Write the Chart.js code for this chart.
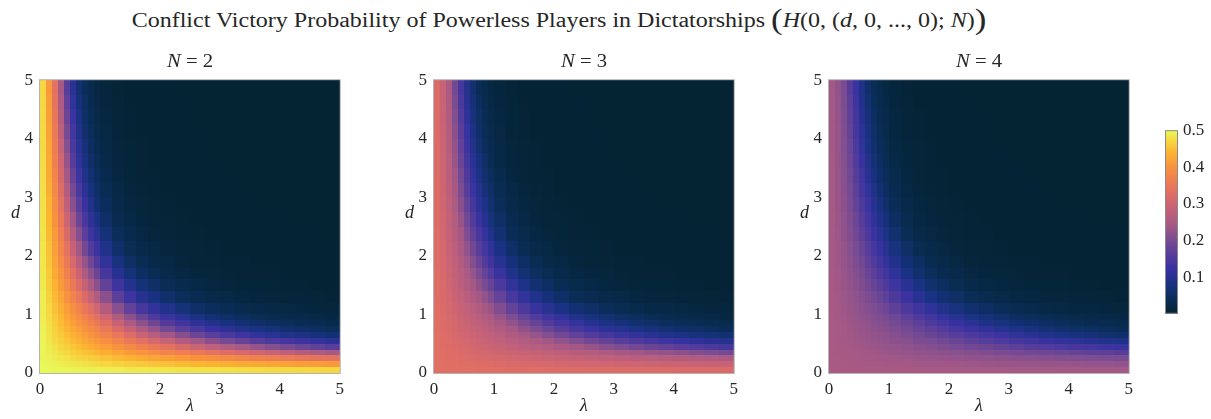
<!DOCTYPE html>
<html>
<head>
<meta charset="utf-8">
<script src="https://cdn.jsdelivr.net/npm/chart.js@4.4.1/dist/chart.umd.min.js"></script>
<style>
  html, body { margin: 0; padding: 0; background: #fff; }
  #wrap { position: relative; width: 1211px; height: 419px; overflow: hidden;
          font-family: 'Liberation Serif', 'DejaVu Serif', serif; color: #262626; }
  canvas { position: absolute; }
  .lbl { position: absolute; white-space: nowrap; line-height: 1; }
  #title { left: 559px; top: 3px; font-size: 20px; transform: translateX(-50%) scaleX(1.2); }
  #title .big { font-size: 29px; position: relative; top: 2px; }
  .ptitle { top: 52px; font-size: 18px; transform: translateX(-50%) scaleX(1.15); }
  .xlab { top: 396px; font-size: 18px; font-style: italic; transform: translateX(-50%); }
  .ylab { top: 203px; font-size: 18px; font-style: italic; }
</style>
</head>
<body>
<div id="wrap">
  <div id="title" class="lbl">Conflict Victory Probability of Powerless Players in Dictatorships <span class="big">(</span><i>H</i>(0, (<i>d</i>, 0, ..., 0); <i>N</i>)<span class="big">)</span></div>
  <canvas id="p0" width="350" height="340"></canvas>
  <canvas id="p1" width="350" height="340"></canvas>
  <canvas id="p2" width="350" height="340"></canvas>
  <canvas id="cbar" width="60" height="214"></canvas>
</div>
<script>
// cell edges on both axes (lambda across, d up)
const lambdaEdges = [0, 0.1, 0.2, 0.3, 0.4, 0.5, 0.6, 0.7, 0.8, 0.9, 1.0, 1.2, 1.4, 1.6, 1.8, 2.0,
  2.25, 2.5, 2.75, 3.0, 3.25, 3.5, 3.75, 4.0, 4.25, 4.5, 4.75, 5.0];
const dEdges = [0, 0.1, 0.2, 0.3, 0.4, 0.5, 0.6, 0.7, 0.8, 0.9, 1.0, 1.2, 1.4, 1.6, 1.8, 2.0,
  2.25, 2.5, 2.75, 3.0, 3.25, 3.5, 3.75, 4.0, 4.25, 4.5, 4.75, 5.0];

const xTicks = [0, 1, 2, 3, 4, 5];
const yTicks = [0, 1, 2, 3, 4, 5];
const colorbarTicks = [0.1, 0.2, 0.3, 0.4, 0.5];
const panelNames = ['2', '3', '4'];
const panelLefts = [40, 434, 829];

// probability, one row per d cell (bottom row first), one column per lambda cell
const probN2 = [
  [.499,.498,.497,.497,.496,.495,.494,.493,.492,.491,.490,.489,.487,.486,.484,.483,.482,.480,.479,.478,.476,.475,.474,.473,.472,.471,.470],
  [.498,.495,.493,.490,.487,.484,.482,.479,.477,.474,.471,.466,.462,.458,.454,.450,.445,.441,.437,.432,.429,.425,.421,.418,.415,.412,.408],
  [.497,.493,.488,.483,.479,.474,.469,.466,.462,.458,.452,.444,.437,.429,.422,.415,.407,.399,.392,.384,.376,.369,.362,.355,.349,.342,.336],
  [.497,.490,.483,.477,.470,.464,.458,.452,.447,.441,.432,.421,.410,.400,.390,.378,.365,.352,.340,.328,.315,.303,.290,.278,.266,.255,.245],
  [.496,.487,.479,.470,.463,.455,.447,.439,.431,.424,.413,.398,.384,.369,.354,.337,.318,.299,.279,.260,.244,.228,.214,.200,.188,.176,.165],
  [.495,.484,.474,.464,.455,.445,.435,.426,.416,.407,.393,.374,.354,.335,.314,.290,.263,.240,.218,.198,.181,.164,.150,.137,.125,.115,.107],
  [.494,.482,.469,.458,.447,.435,.424,.413,.401,.390,.372,.348,.322,.296,.269,.241,.213,.188,.166,.146,.129,.115,.104,.094,.085,.076,.069],
  [.493,.479,.466,.452,.439,.426,.413,.399,.386,.372,.350,.320,.288,.256,.227,.197,.168,.144,.123,.107,.094,.082,.071,.063,.057,.050,.044],
  [.492,.477,.462,.447,.431,.416,.401,.386,.369,.353,.327,.290,.252,.219,.189,.159,.132,.110,.093,.079,.067,.058,.050,.043,.038,.034,.030],
  [.491,.474,.458,.441,.424,.407,.390,.372,.353,.334,.303,.259,.220,.185,.155,.127,.104,.085,.069,.058,.048,.040,.035,.030,.027,.024,.021],
  [.490,.471,.452,.432,.413,.393,.372,.350,.327,.303,.263,.217,.176,.142,.114,.092,.072,.058,.045,.037,.031,.026,.022,.019,.017,.015,.013],
  [.489,.466,.444,.421,.398,.374,.348,.320,.290,.259,.217,.168,.129,.100,.079,.060,.044,.035,.027,.022,.018,.015,.013,.011,.009,.008,.007],
  [.487,.462,.437,.410,.384,.354,.322,.288,.252,.220,.176,.129,.096,.071,.054,.039,.029,.022,.018,.014,.011,.009,.008,.007,.006,.005,.005],
  [.486,.458,.429,.400,.369,.335,.296,.256,.219,.185,.142,.100,.071,.051,.037,.027,.020,.015,.012,.009,.007,.007,.006,.005,.005,.004,.004],
  [.484,.454,.422,.390,.354,.314,.269,.227,.189,.155,.114,.079,.054,.037,.027,.020,.014,.011,.008,.007,.006,.005,.004,.004,.004,.003,.003],
  [.483,.450,.415,.378,.337,.290,.241,.197,.159,.127,.092,.060,.039,.027,.020,.014,.010,.008,.006,.005,.005,.004,.004,.003,.003,.003,.003],
  [.482,.445,.407,.365,.318,.263,.213,.168,.132,.104,.072,.044,.029,.020,.014,.010,.007,.006,.005,.004,.004,.003,.003,.003,.003,.003,.002],
  [.480,.441,.399,.352,.299,.240,.188,.144,.110,.085,.058,.035,.022,.015,.011,.008,.006,.005,.004,.003,.003,.003,.003,.003,.002,.002,.002],
  [.479,.437,.392,.340,.279,.218,.166,.123,.093,.069,.045,.027,.018,.012,.008,.006,.005,.004,.003,.003,.003,.003,.002,.002,.002,.002,.002],
  [.478,.432,.384,.328,.260,.198,.146,.107,.079,.058,.037,.022,.014,.009,.007,.005,.004,.003,.003,.003,.003,.002,.002,.002,.002,.002,.002],
  [.476,.429,.376,.315,.244,.181,.129,.094,.067,.048,.031,.018,.011,.007,.006,.005,.004,.003,.003,.003,.002,.002,.002,.002,.002,.002,.002],
  [.475,.425,.369,.303,.228,.164,.115,.082,.058,.040,.026,.015,.009,.007,.005,.004,.003,.003,.003,.002,.002,.002,.002,.002,.002,.002,.002],
  [.474,.421,.362,.290,.214,.150,.104,.071,.050,.035,.022,.013,.008,.006,.004,.004,.003,.003,.002,.002,.002,.002,.002,.002,.002,.002,.002],
  [.473,.418,.355,.278,.200,.137,.094,.063,.043,.030,.019,.011,.007,.005,.004,.003,.003,.003,.002,.002,.002,.002,.002,.002,.002,.002,.002],
  [.472,.415,.349,.266,.188,.125,.085,.057,.038,.027,.017,.009,.006,.005,.004,.003,.003,.002,.002,.002,.002,.002,.002,.002,.002,.002,.002],
  [.471,.412,.342,.255,.176,.115,.076,.050,.034,.024,.015,.008,.005,.004,.003,.003,.003,.002,.002,.002,.002,.002,.002,.002,.002,.002,.002],
  [.470,.408,.336,.245,.165,.107,.069,.044,.030,.021,.013,.007,.005,.004,.003,.003,.002,.002,.002,.002,.002,.002,.002,.002,.002,.002,.002]
];

const probN3 = [
  [.333,.332,.332,.332,.332,.331,.331,.330,.330,.329,.329,.328,.328,.327,.326,.326,.325,.324,.324,.323,.322,.322,.322,.321,.321,.320,.320],
  [.332,.331,.330,.329,.328,.326,.325,.324,.323,.322,.320,.318,.316,.314,.312,.310,.308,.306,.304,.302,.300,.298,.296,.295,.293,.292,.290],
  [.332,.330,.328,.326,.324,.322,.319,.318,.316,.314,.311,.307,.304,.300,.297,.293,.289,.285,.282,.277,.273,.270,.266,.262,.259,.255,.251],
  [.332,.329,.326,.323,.320,.317,.314,.311,.309,.306,.302,.296,.291,.286,.281,.274,.267,.260,.254,.247,.240,.233,.225,.218,.210,.203,.197],
  [.332,.328,.324,.320,.317,.313,.309,.305,.301,.298,.292,.285,.277,.270,.261,.252,.241,.230,.218,.206,.196,.186,.176,.167,.158,.150,.142],
  [.331,.326,.322,.317,.313,.308,.303,.299,.294,.289,.282,.272,.261,.251,.239,.225,.208,.194,.179,.165,.153,.141,.130,.120,.111,.103,.097],
  [.331,.325,.319,.314,.309,.303,.298,.292,.286,.281,.271,.258,.244,.228,.212,.194,.176,.158,.142,.127,.114,.103,.094,.086,.078,.071,.065],
  [.330,.324,.318,.311,.305,.299,.292,.285,.279,.271,.259,.242,.224,.204,.185,.165,.144,.126,.110,.097,.086,.076,.066,.059,.054,.048,.042],
  [.330,.323,.316,.309,.301,.294,.286,.279,.270,.261,.246,.225,.201,.180,.159,.137,.117,.099,.085,.073,.063,.055,.048,.041,.037,.033,.029],
  [.329,.322,.314,.306,.298,.289,.281,.271,.261,.250,.233,.206,.180,.156,.134,.113,.094,.078,.065,.055,.046,.038,.034,.029,.026,.023,.021],
  [.329,.320,.311,.302,.292,.282,.271,.259,.246,.233,.208,.178,.150,.124,.102,.084,.067,.055,.043,.036,.030,.025,.022,.019,.017,.015,.013],
  [.328,.318,.307,.296,.285,.272,.258,.242,.225,.206,.178,.144,.114,.091,.073,.057,.042,.034,.026,.022,.018,.015,.013,.011,.009,.008,.007],
  [.328,.316,.304,.291,.277,.261,.244,.224,.201,.180,.150,.114,.088,.066,.051,.038,.028,.022,.018,.014,.011,.009,.008,.007,.006,.005,.005],
  [.327,.314,.300,.286,.270,.251,.228,.204,.180,.156,.124,.091,.066,.049,.036,.026,.020,.015,.012,.009,.007,.007,.006,.005,.005,.004,.004],
  [.326,.312,.297,.281,.261,.239,.212,.185,.159,.134,.102,.073,.051,.036,.026,.020,.014,.011,.008,.007,.006,.005,.004,.004,.004,.003,.003],
  [.326,.310,.293,.274,.252,.225,.194,.165,.137,.113,.084,.057,.038,.026,.020,.014,.010,.008,.006,.005,.005,.004,.004,.003,.003,.003,.003],
  [.325,.308,.289,.267,.241,.208,.176,.144,.117,.094,.067,.042,.028,.020,.014,.010,.007,.006,.005,.004,.004,.003,.003,.003,.003,.003,.002],
  [.324,.306,.285,.260,.230,.194,.158,.126,.099,.078,.055,.034,.022,.015,.011,.008,.006,.005,.004,.003,.003,.003,.003,.003,.002,.002,.002],
  [.324,.304,.282,.254,.218,.179,.142,.110,.085,.065,.043,.026,.018,.012,.008,.006,.005,.004,.003,.003,.003,.003,.002,.002,.002,.002,.002],
  [.323,.302,.277,.247,.206,.165,.127,.097,.073,.055,.036,.022,.014,.009,.007,.005,.004,.003,.003,.003,.003,.002,.002,.002,.002,.002,.002],
  [.322,.300,.273,.240,.196,.153,.114,.086,.063,.046,.030,.018,.011,.007,.006,.005,.004,.003,.003,.003,.002,.002,.002,.002,.002,.002,.002],
  [.322,.298,.270,.233,.186,.141,.103,.076,.055,.038,.025,.015,.009,.007,.005,.004,.003,.003,.003,.002,.002,.002,.002,.002,.002,.002,.002],
  [.322,.296,.266,.225,.176,.130,.094,.066,.048,.034,.022,.013,.008,.006,.004,.004,.003,.003,.002,.002,.002,.002,.002,.002,.002,.002,.002],
  [.321,.295,.262,.218,.167,.120,.086,.059,.041,.029,.019,.011,.007,.005,.004,.003,.003,.003,.002,.002,.002,.002,.002,.002,.002,.002,.002],
  [.321,.293,.259,.210,.158,.111,.078,.054,.037,.026,.017,.009,.006,.005,.004,.003,.003,.002,.002,.002,.002,.002,.002,.002,.002,.002,.002],
  [.320,.292,.255,.203,.150,.103,.071,.048,.033,.023,.015,.008,.005,.004,.003,.003,.003,.002,.002,.002,.002,.002,.002,.002,.002,.002,.002],
  [.320,.290,.251,.197,.142,.097,.065,.042,.029,.021,.013,.007,.005,.004,.003,.003,.002,.002,.002,.002,.002,.002,.002,.002,.002,.002,.002]
];

const probN4 = [
  [.250,.249,.249,.249,.249,.249,.248,.248,.248,.248,.247,.247,.247,.246,.246,.246,.245,.245,.245,.244,.244,.244,.243,.243,.243,.243,.242],
  [.249,.249,.248,.247,.247,.246,.245,.245,.244,.243,.243,.241,.240,.239,.238,.237,.235,.234,.233,.232,.231,.230,.229,.228,.227,.226,.225],
  [.249,.248,.247,.246,.245,.243,.242,.241,.240,.239,.237,.235,.233,.231,.229,.227,.224,.222,.220,.217,.215,.212,.210,.208,.206,.203,.201],
  [.249,.247,.246,.244,.242,.241,.239,.237,.236,.234,.232,.229,.225,.222,.219,.215,.211,.207,.202,.198,.193,.189,.184,.179,.174,.169,.164],
  [.249,.247,.245,.242,.240,.238,.236,.234,.231,.229,.226,.222,.217,.212,.207,.201,.194,.187,.179,.171,.164,.157,.150,.143,.137,.130,.124],
  [.249,.246,.243,.241,.238,.235,.233,.230,.227,.224,.220,.214,.207,.201,.193,.184,.172,.162,.152,.142,.133,.123,.115,.108,.100,.093,.088],
  [.248,.245,.242,.239,.236,.233,.229,.226,.223,.219,.213,.205,.196,.186,.175,.163,.149,.137,.125,.113,.103,.093,.086,.079,.073,.066,.061],
  [.248,.245,.241,.237,.234,.230,.226,.222,.218,.213,.206,.195,.183,.169,.156,.141,.126,.112,.099,.088,.079,.070,.062,.056,.051,.045,.040],
  [.248,.244,.240,.236,.231,.227,.223,.218,.212,.207,.198,.184,.168,.152,.137,.121,.104,.090,.078,.068,.059,.052,.045,.040,.035,.032,.028],
  [.248,.243,.239,.234,.229,.224,.219,.213,.207,.200,.189,.171,.153,.135,.118,.101,.086,.073,.061,.052,.044,.037,.033,.028,.026,.022,.020],
  [.247,.243,.237,.232,.226,.220,.213,.206,.198,.189,.172,.151,.130,.111,.093,.078,.063,.052,.041,.034,.029,.025,.021,.018,.016,.015,.013],
  [.247,.241,.235,.229,.222,.214,.205,.195,.184,.171,.151,.126,.103,.083,.068,.054,.040,.033,.026,.021,.017,.015,.013,.011,.009,.008,.007],
  [.247,.240,.233,.225,.217,.207,.196,.183,.168,.153,.130,.103,.081,.062,.049,.036,.027,.021,.017,.014,.011,.009,.008,.007,.006,.005,.005],
  [.246,.239,.231,.222,.212,.201,.186,.169,.152,.135,.111,.083,.062,.046,.034,.026,.019,.015,.012,.009,.007,.007,.006,.005,.005,.004,.004],
  [.246,.238,.229,.219,.207,.193,.175,.156,.137,.118,.093,.068,.049,.034,.026,.019,.014,.011,.008,.007,.006,.005,.004,.004,.004,.003,.003],
  [.246,.237,.227,.215,.201,.184,.163,.141,.121,.101,.078,.054,.036,.026,.019,.014,.010,.008,.006,.005,.005,.004,.004,.003,.003,.003,.003],
  [.245,.235,.224,.211,.194,.172,.149,.126,.104,.086,.063,.040,.027,.019,.014,.010,.007,.006,.005,.004,.004,.003,.003,.003,.003,.003,.002],
  [.245,.234,.222,.207,.187,.162,.137,.112,.090,.073,.052,.033,.021,.015,.011,.008,.006,.005,.004,.003,.003,.003,.003,.003,.002,.002,.002],
  [.245,.233,.220,.202,.179,.152,.125,.099,.078,.061,.041,.026,.017,.012,.008,.006,.005,.004,.003,.003,.003,.003,.002,.002,.002,.002,.002],
  [.244,.232,.217,.198,.171,.142,.113,.088,.068,.052,.034,.021,.014,.009,.007,.005,.004,.003,.003,.003,.003,.002,.002,.002,.002,.002,.002],
  [.244,.231,.215,.193,.164,.133,.103,.079,.059,.044,.029,.017,.011,.007,.006,.005,.004,.003,.003,.003,.002,.002,.002,.002,.002,.002,.002],
  [.244,.230,.212,.189,.157,.123,.093,.070,.052,.037,.025,.015,.009,.007,.005,.004,.003,.003,.003,.002,.002,.002,.002,.002,.002,.002,.002],
  [.243,.229,.210,.184,.150,.115,.086,.062,.045,.033,.021,.013,.008,.006,.004,.004,.003,.003,.002,.002,.002,.002,.002,.002,.002,.002,.002],
  [.243,.228,.208,.179,.143,.108,.079,.056,.040,.028,.018,.011,.007,.005,.004,.003,.003,.003,.002,.002,.002,.002,.002,.002,.002,.002,.002],
  [.243,.227,.206,.174,.137,.100,.073,.051,.035,.026,.016,.009,.006,.005,.004,.003,.003,.002,.002,.002,.002,.002,.002,.002,.002,.002,.002],
  [.243,.226,.203,.169,.130,.093,.066,.045,.032,.022,.015,.008,.005,.004,.003,.003,.003,.002,.002,.002,.002,.002,.002,.002,.002,.002,.002],
  [.242,.225,.201,.164,.124,.088,.061,.040,.028,.020,.013,.007,.005,.004,.003,.003,.002,.002,.002,.002,.002,.002,.002,.002,.002,.002,.002]
];

const colorMin = 0.002;
const colorMax = 0.5;

// thermal-like colormap stops [position, r, g, b]
const thermalStops = [
  [0.00, 4, 35, 51],
  [0.08, 10, 45, 88],
  [0.16, 25, 50, 130],
  [0.24, 55, 50, 160],
  [0.32, 85, 60, 155],
  [0.40, 120, 75, 146],
  [0.48, 163, 88, 134],
  [0.56, 192, 96, 123],
  [0.64, 219, 107, 105],
  [0.72, 238, 124, 84],
  [0.80, 248, 147, 62],
  [0.88, 252, 181, 50],
  [0.95, 245, 220, 68],
  [1.00, 232, 250, 91]
];

function thermal(t) {
  if (!isFinite(t)) t = 0;
  t = Math.max(0, Math.min(1, t));
  for (let k = 1; k < thermalStops.length; k++) {
    const a = thermalStops[k - 1], b = thermalStops[k];
    if (t <= b[0]) {
      const f = (t - a[0]) / (b[0] - a[0]);
      const r = Math.round(a[1] + f * (b[1] - a[1]));
      const g = Math.round(a[2] + f * (b[2] - a[2]));
      const bl = Math.round(a[3] + f * (b[3] - a[3]));
      return `rgb(${r},${g},${bl})`;
    }
  }
  return 'rgb(232,250,91)';
}

const tickFont = { family: "'Liberation Serif', 'DejaVu Serif', serif", size: 17 };
const tickColor = '#262626';

const heatmapPlugin = {
  id: 'heatmap',
  beforeDatasetsDraw(chart) {
    const { ctx, chartArea, scales: { x, y } } = chart;
    ctx.save();
    chart.data.datasets[0].data.forEach(c => {
      const x0 = Math.round(x.getPixelForValue(lambdaEdges[c.i]));
      const x1 = Math.round(x.getPixelForValue(lambdaEdges[c.i + 1]));
      const y0 = Math.round(y.getPixelForValue(dEdges[c.j]));
      const y1 = Math.round(y.getPixelForValue(dEdges[c.j + 1]));
      ctx.fillStyle = thermal((c.v - colorMin) / (colorMax - colorMin));
      ctx.fillRect(x0, y1, x1 - x0, y0 - y1);
    });
    ctx.strokeStyle = '#b4b4b4';
    ctx.lineWidth = 1;
    ctx.strokeRect(chartArea.left - 0.5, chartArea.top - 0.5, chartArea.width + 1, chartArea.height + 1);
    ctx.restore();
  }
};

function buildCells(matrix) {
  const cells = [];
  for (let j = 0; j < dEdges.length - 1; j++) {
    for (let i = 0; i < lambdaEdges.length - 1; i++) {
      cells.push({
        x: (lambdaEdges[i] + lambdaEdges[i + 1]) / 2,
        y: (dEdges[j] + dEdges[j + 1]) / 2,
        v: matrix[j][i], i: i, j: j
      });
    }
  }
  return cells;
}

function makePanel(canvasId, matrix) {
  const ctx = document.getElementById(canvasId).getContext('2d');
  return new Chart(ctx, {
    type: 'scatter',
    data: { datasets: [{ data: buildCells(matrix), pointRadius: 0, pointHoverRadius: 0 }] },
    options: {
      responsive: false,
      animation: false,
      events: [],
      layout: { autoPadding: false, padding: { top: 10, right: 10, left: 0, bottom: 0 } },
      plugins: { legend: { display: false }, tooltip: { enabled: false } },
      scales: {
        x: {
          type: 'linear', min: 0, max: 5,
          grid: { display: false, drawTicks: false },
          border: { display: false },
          afterBuildTicks: s => { s.ticks = xTicks.map(v => ({ value: v })); },
          ticks: { font: tickFont, color: tickColor, padding: 6, maxRotation: 0 },
          afterFit: s => { s.height = 30; }
        },
        y: {
          type: 'linear', min: 0, max: 5,
          grid: { display: false, drawTicks: false },
          border: { display: false },
          afterBuildTicks: s => { s.ticks = yTicks.map(v => ({ value: v })); },
          ticks: { font: tickFont, color: tickColor, padding: 7 },
          afterFit: s => { s.width = 40; }
        }
      }
    },
    plugins: [heatmapPlugin]
  });
}

const colorbarPlugin = {
  id: 'colorbar',
  beforeDatasetsDraw(chart) {
    const { ctx, chartArea, scales: { y } } = chart;
    const yTop = y.getPixelForValue(colorMax);
    const yBot = y.getPixelForValue(colorMin);
    const grad = ctx.createLinearGradient(0, yBot, 0, yTop);
    thermalStops.forEach(s => grad.addColorStop(s[0], `rgb(${s[1]},${s[2]},${s[3]})`));
    ctx.save();
    ctx.fillStyle = grad;
    ctx.fillRect(chartArea.left, yTop, chartArea.width, yBot - yTop);
    ctx.strokeStyle = '#8a8a8a';
    ctx.lineWidth = 1;
    ctx.strokeRect(chartArea.left + 0.5, chartArea.top + 0.5, chartArea.width - 1, chartArea.height - 1);
    ctx.restore();
  }
};

// place canvases so every plot area lands where the reference has it
panelLefts.forEach((left, k) => {
  const cv = document.getElementById('p' + k);
  cv.style.left = (left - 40) + 'px';
  cv.style.top = '63px';
});
const cb = document.getElementById('cbar');
cb.style.left = '1165px';
cb.style.top = '115px';

makePanel('p0', probN2);
makePanel('p1', probN3);
makePanel('p2', probN4);

new Chart(cb.getContext('2d'), {
  type: 'scatter',
  data: { datasets: [{ data: [], pointRadius: 0 }] },
  options: {
    responsive: false,
    animation: false,
    events: [],
    layout: { autoPadding: false, padding: { top: 10, bottom: 10, left: 0, right: 0 } },
    plugins: { legend: { display: false }, tooltip: { enabled: false } },
    scales: {
      x: { display: false, min: 0, max: 1 },
      y: {
        position: 'right', min: colorMin, max: colorMax,
        grid: { display: false, drawTicks: false },
        border: { display: false },
        afterBuildTicks: s => { s.ticks = colorbarTicks.map(v => ({ value: v })); },
        ticks: { font: tickFont, color: tickColor, padding: 5, callback: v => v.toFixed(1) },
        afterFit: s => { s.width = 47; }
      }
    }
  },
  plugins: [colorbarPlugin]
});

// text labels around the panels
const wrap = document.getElementById('wrap');
panelLefts.forEach((left, k) => {
  const t = document.createElement('div');
  t.className = 'lbl ptitle';
  t.style.left = (left + 150) + 'px';
  t.innerHTML = '<i>N</i> = ' + panelNames[k];
  wrap.appendChild(t);

  const xl = document.createElement('div');
  xl.className = 'lbl xlab';
  xl.style.left = (left + 150) + 'px';
  xl.textContent = 'λ';
  wrap.appendChild(xl);

  const yl = document.createElement('div');
  yl.className = 'lbl ylab';
  yl.style.left = (left - 29) + 'px';
  yl.textContent = 'd';
  wrap.appendChild(yl);
});
</script>
</body>
</html>
